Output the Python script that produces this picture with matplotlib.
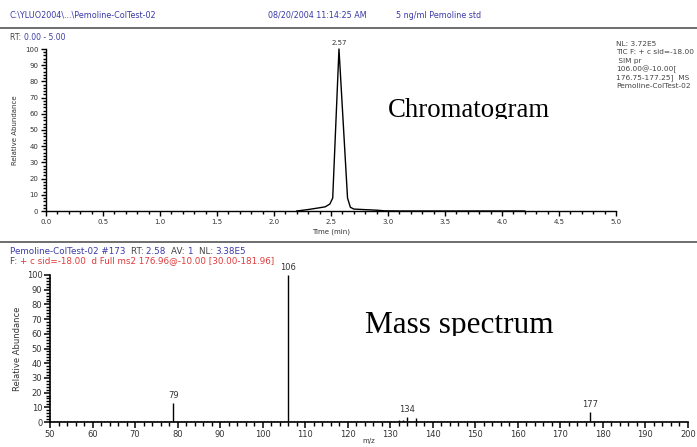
import matplotlib
matplotlib.use('Agg')
import matplotlib.pyplot as plt
from matplotlib.lines import Line2D
from matplotlib.patches import Rectangle
from matplotlib.ticker import MultipleLocator, FormatStrFormatter
from matplotlib.text import Annotation

W, H = 697, 447
plt.rcParams['font.family'] = ['DejaVu Sans']

# ---- data: chromatogram (time in min, relative abundance) ----
rt_min = [2.20, 2.30, 2.40, 2.45, 2.49, 2.515, 2.57, 2.645, 2.67, 2.70, 2.78, 2.90, 2.97, 3.10, 4.20]
rt_abund = [0.0, 0.9, 2.0, 2.6, 4.3, 8.0, 100.0, 8.0, 2.3, 1.2, 0.9, 0.5, 0.1, 0.0, 0.0]
rt_peak_label = 2.57

# ---- data: mass spectrum (m/z, relative abundance) ----
mz = [77, 79, 106, 132, 133, 134, 136, 177]
mz_abund = [0.6, 13.0, 100.0, 1.2, 1.7, 3.3, 2.5, 6.8]
mz_labeled = [79, 106, 134, 177]

BLUE = '#3a3aa8'
RED = '#e03a3a'
DARK = '#444444'
TICKC = '#333333'

fig = plt.figure(figsize=(W / 100, H / 100), dpi=100)


def ax_px(l, t, r, b):
    return fig.add_axes([l / W, 1 - b / H, (r - l) / W, (b - t) / H])


def fx(x):
    return x / W


def fy(y):
    return 1 - y / H


# separator lines
for yy in (28, 242):
    fig.add_artist(Line2D([0, 1], [fy(yy), fy(yy)], color='#555555', lw=1.2))

# header
HFS = 5.8
fig.text(fx(10), fy(15), r'C:\YLUO2004\...\Pemoline-ColTest-02', color=BLUE, fontsize=HFS, va='center')
fig.text(fx(268), fy(15), '08/20/2004 11:14:25 AM', color=BLUE, fontsize=HFS, va='center')
fig.text(fx(396), fy(15), '5 ng/ml Pemoline std', color=BLUE, fontsize=HFS, va='center')

# chromatogram header "RT: 0.00 - 5.00"
t = fig.text(fx(10), fy(37), 'RT: ', color=DARK, fontsize=5.5, va='center')
fig.add_artist(Annotation('0.00 - 5.00', xy=(1, 0.5), xycoords=t,
                          va='center', ha='left', color=BLUE, fontsize=5.5))

# right info block
info = ['NL: 3.72E5', 'TIC F: + c sid=-18.00', ' SIM pr', '106.00@-10.00[',
        '176.75-177.25]  MS', 'Pemoline-ColTest-02']
for i, s in enumerate(info):
    fig.text(fx(616), fy(44 + i * 8.4), s, color=DARK, fontsize=5.3, va='center')

# ---- chromatogram axes ----
ax1 = ax_px(46, 49, 616, 211)
ax1.plot(rt_min, rt_abund, color='black', lw=1.0, clip_on=False)
ax1.set_xlim(0, 5)
ax1.set_ylim(0, 100)
for s in ('top', 'right'):
    ax1.spines[s].set_visible(False)
for s in ('left', 'bottom'):
    ax1.spines[s].set_linewidth(1.0)
ax1.xaxis.set_major_locator(MultipleLocator(0.5))
ax1.xaxis.set_minor_locator(MultipleLocator(0.1))
ax1.yaxis.set_major_locator(MultipleLocator(10))
ax1.yaxis.set_minor_locator(MultipleLocator(2))
ax1.xaxis.set_major_formatter(FormatStrFormatter('%.1f'))
ax1.tick_params(which='major', length=3.5, width=1, labelsize=5, pad=2, labelcolor=TICKC)
ax1.tick_params(which='minor', length=2.5, width=1)
ax1.set_xlabel('Time (min)', fontsize=5, color=TICKC, labelpad=3)
ax1.set_ylabel('Relative Abundance', fontsize=5, color=TICKC, labelpad=5)
ax1.annotate(f'{rt_peak_label:.2f}', xy=(rt_peak_label, 100), xytext=(0, 2),
             textcoords='offset points', ha='center', va='bottom', fontsize=5,
             color=TICKC, annotation_clip=False)

# ---- spectrum header ----
SFS = 6.3
parts = [('Pemoline-ColTest-02 #173  ', BLUE), ('RT: ', DARK), ('2.58  ', BLUE),
         ('AV: ', DARK), ('1  ', BLUE), ('NL: ', DARK), ('3.38E5', BLUE)]
prev = fig.text(fx(10), fy(251), parts[0][0], color=parts[0][1], fontsize=SFS, va='center')
for s, c in parts[1:]:
    prev = fig.add_artist(Annotation(s, xy=(1, 0.5), xycoords=prev, va='center',
                                     ha='left', color=c, fontsize=SFS))
parts2 = [('F: ', DARK), ('+ c sid=-18.00  d Full ms2 176.96@-10.00 [30.00-181.96]', RED)]
prev = fig.text(fx(10), fy(261), parts2[0][0], color=parts2[0][1], fontsize=SFS, va='center')
fig.add_artist(Annotation(parts2[1][0], xy=(1, 0.5), xycoords=prev, va='center',
                          ha='left', color=parts2[1][1], fontsize=SFS))

# ---- spectrum axes ----
ax2 = ax_px(50, 275, 688, 422)
ax2.vlines(mz, 0, mz_abund, color='black', lw=1.0)
ax2.hlines(0.6, 50, 181.96, color='#777777', lw=0.8, linestyles=(0, (1, 2)))
for m, a in zip(mz, mz_abund):
    if m in mz_labeled:
        ax2.annotate(str(m), xy=(m, a), xytext=(0, 2), textcoords='offset points',
                     ha='center', va='bottom', fontsize=6, color=TICKC, annotation_clip=False)
ax2.set_xlim(50, 200)
ax2.set_ylim(0, 100)
for s in ('top', 'right'):
    ax2.spines[s].set_visible(False)
for s in ('left', 'bottom'):
    ax2.spines[s].set_linewidth(1.2)
ax2.xaxis.set_major_locator(MultipleLocator(10))
ax2.xaxis.set_minor_locator(MultipleLocator(2))
ax2.yaxis.set_major_locator(MultipleLocator(10))
ax2.yaxis.set_minor_locator(MultipleLocator(2))
ax2.tick_params(which='major', length=4, width=1.1, labelsize=6, pad=1.5, labelcolor=TICKC)
ax2.tick_params(which='minor', length=3, width=1.0)
ax2.set_ylabel('Relative Abundance', fontsize=6, color=TICKC, labelpad=3)
fig.text(fx(369), fy(441.5), 'm/z', fontsize=5, color=TICKC, ha='center', va='center')

# ---- overlay titles (clipped at the bottom like the reference) ----
t1 = fig.text(fx(388), fy(117), 'Chromatogram', fontfamily='Liberation Serif', fontsize=19.3,
              va='baseline', ha='left', color='black')
clip1 = Rectangle((0, fy(119)), 1, 1, transform=fig.transFigure, visible=False)
fig.add_artist(clip1)
t1.set_clip_path(clip1)
t2 = fig.text(fx(365), fy(333), 'Mass spectrum', fontfamily='Liberation Serif', fontsize=22.5,
              va='baseline', ha='left', color='black')
clip2 = Rectangle((0, fy(336)), 1, 1, transform=fig.transFigure, visible=False)
fig.add_artist(clip2)
t2.set_clip_path(clip2)

fig.savefig('out.png', dpi=100)
